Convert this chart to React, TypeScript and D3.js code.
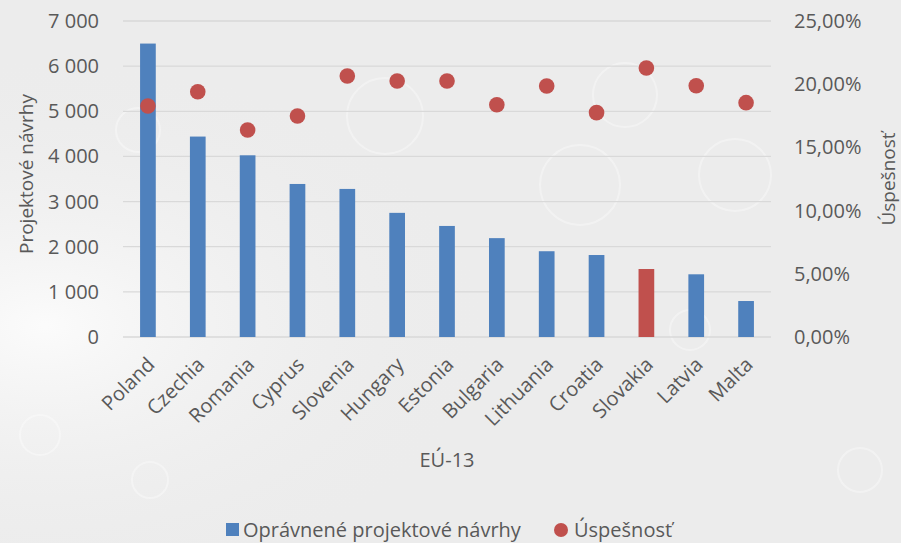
import React from "react";
import * as d3 from "d3";

const categories = ["Poland", "Czechia", "Romania", "Cyprus", "Slovenia", "Hungary", "Estonia", "Bulgaria", "Lithuania", "Croatia", "Slovakia", "Latvia", "Malta"];
const proposals = [6500, 4440, 4025, 3390, 3280, 2750, 2460, 2190, 1900, 1816, 1506, 1389, 797];
const successRate = [18.27, 19.4, 16.38, 17.48, 20.65, 20.25, 20.25, 18.38, 19.86, 17.75, 21.28, 19.88, 18.54];
const leftTicks = [0, 1000, 2000, 3000, 4000, 5000, 6000, 7000];
const rightTicks = [0, 5, 10, 15, 20, 25];
const highlight = "Slovakia";

const W = 901, H = 543;
const plot = { left: 123, right: 771, top: 21, bottom: 337 };
const BLUE = "#4F81BD", RED = "#C0504D", TXT = "#595959", GRID = "#D9D9D9";
const FONT = "'Open Sans', 'Liberation Sans', sans-serif";

const fmtThousands = (v: number) => {
  const s = String(v);
  return s.length > 3 ? s.slice(0, s.length - 3) + " " + s.slice(-3) : s;
};
const fmtPct = (v: number) => v.toFixed(2).replace(".", ",") + "%";

export default function App() {
  const x = d3.scaleBand<string>().domain(categories).range([plot.left, plot.right]).paddingInner(0.685).paddingOuter(0.3425);
  const yL = d3.scaleLinear().domain([0, 7000]).range([plot.bottom, plot.top]);
  const yR = d3.scaleLinear().domain([0, 25]).range([plot.bottom, plot.top]);
  const cx = (c: string) => (x(c) as number) + x.bandwidth() / 2;

  return (
    <svg width={W} height={H} style={{ position: "absolute", left: 0, top: 0 }} fontFamily={FONT}>
      <defs>
        <radialGradient id="glow" cx="0.05" cy="0.6" r="0.5">
          <stop offset="0" stopColor="#ffffff" />
          <stop offset="1" stopColor="#ececec" stopOpacity="0" />
        </radialGradient>
      </defs>
      <rect width={W} height={H} fill="#ECECEC" />
      <rect width={W} height={H} fill="url(#glow)" opacity={0.8} />
      {[[625, 95, 32], [385, 116, 38], [138, 130, 22], [735, 175, 36], [580, 185, 40], [40, 435, 20], [690, 330, 20], [150, 480, 18], [860, 470, 22]].map(([a, b, r], i) => (
        <circle key={i} cx={a} cy={b} r={r} fill="none" stroke="#ffffff" strokeWidth={2} opacity={0.35} />
      ))}
      {leftTicks.map((t) => (
        <line key={t} x1={plot.left} x2={plot.right} y1={yL(t)} y2={yL(t)} stroke={GRID} strokeWidth={1.3} />
      ))}
      {categories.map((c, i) => (
        <rect key={c} x={x(c)} y={yL(proposals[i])} width={x.bandwidth()} height={yL(0) - yL(proposals[i])} fill={c === highlight ? RED : BLUE} />
      ))}
      {categories.map((c, i) => (
        <circle key={c} cx={cx(c)} cy={yR(successRate[i])} r={7.8} fill={RED} />
      ))}
      {leftTicks.map((t) => (
        <text key={t} x={99} y={yL(t)} dy="0.35em" textAnchor="end" fontSize={20} fill={TXT}>{fmtThousands(t)}</text>
      ))}
      {rightTicks.map((t) => (
        <text key={t} x={794} y={yR(t)} dy="0.35em" textAnchor="start" fontSize={20} fill={TXT}>{fmtPct(t)}</text>
      ))}
      {categories.map((c) => (
        <text key={c} transform={`translate(${cx(c) + 3},${plot.bottom + 24}) rotate(-45)`} textAnchor="end" dy="0.35em" fontSize={20} fill={TXT}>{c}</text>
      ))}
      <text transform={`translate(33,174) rotate(-90)`} textAnchor="middle" fontSize={19} fill={TXT}>Projektové návrhy</text>
      <text transform={`translate(895,${(plot.top + plot.bottom) / 2}) rotate(-90)`} textAnchor="middle" fontSize={19} fill={TXT}>Úspešnosť</text>
      <text x={447} y={467} textAnchor="middle" fontSize={20} fill={TXT}>EÚ-13</text>
      <rect x={226} y={523} width={13} height={13} fill={BLUE} />
      <text x={243} y={537} fontSize={20} fill={TXT}>Oprávnené projektové návrhy</text>
      <circle cx={561} cy={530} r={7} fill={RED} />
      <text x={574} y={537} fontSize={20} fill={TXT}>Úspešnosť</text>
    </svg>
  );
}
